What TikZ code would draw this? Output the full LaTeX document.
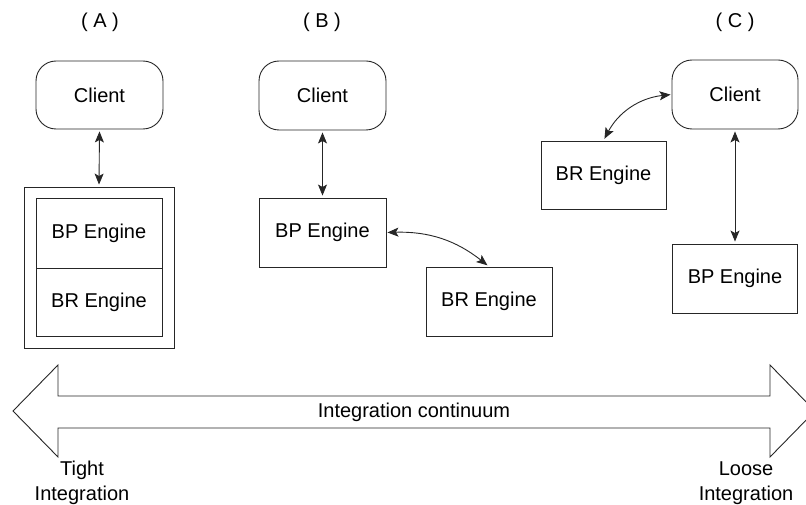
\documentclass[tikz,border=0pt]{standalone}
\usepackage{fontspec}
\setmainfont{Liberation Sans}
\usetikzlibrary{arrows.meta}
\begin{document}
\begin{tikzpicture}[x=1pt,y=-1pt,
  every node/.style={font=\fontsize{20}{25}\selectfont},
  line/.style={line width=0.9pt, draw=black!85},
  box/.style={line, draw, rectangle, inner sep=0pt},
  clientbox/.style={box, rounded corners=20pt},
  tip/.tip={Stealth[length=11pt,width=9pt,inset=2.5pt]},
  link/.style={line, tip-tip, shorten <=2pt, shorten >=2pt},
  caption/.style={align=center, inner sep=0pt}]
\useasboundingbox (0,0) rectangle (806,505);

% column headings
\node (lblA) at (100,22) {( A )};
\node (lblB) at (322,22) {( B )};
\node (lblC) at (735,22) {( C )};

% (A) engines embedded in one component
\node[clientbox, minimum width=127pt, minimum height=68pt] (clientA) at (99.5,95) {Client};
\node[box, minimum width=150pt, minimum height=161pt] (outerA) at (99,267.5) {};
\node[box, minimum width=126pt, minimum height=70pt] (bpA) at (99,233) {BP Engine};
\node[box, minimum width=126pt, minimum height=68pt] (brA) at (99,302) {BR Engine};
\draw[link] (clientA.south) -- (outerA.north);

% (B) rule engine called by the process engine
\node[clientbox, minimum width=127pt, minimum height=69pt] (clientB) at (322.5,95.5) {Client};
\node[box, minimum width=127pt, minimum height=69pt] (bpB) at (322.5,232.5) {BP Engine};
\node[box, minimum width=126pt, minimum height=69pt] (brB) at (489,301.5) {BR Engine};
\draw[link] (clientB.south) -- (bpB.north);
\draw[link, shorten <=1pt] (bpB.east) to[bend left=20] (brB.north);

% (C) both engines used by the client directly
\node[clientbox, minimum width=126pt, minimum height=69pt] (clientC) at (735,94.5) {Client};
\node[box, minimum width=125pt, minimum height=68pt] (brC) at (603.5,175) {BR Engine};
\node[box, minimum width=125pt, minimum height=69pt] (bpC) at (735,278.5) {BP Engine};
\draw[link] (clientC.south) -- (bpC.north);
\draw[link, shorten <=1pt] (clientC.west) to[bend right=28] (brC.north);

% integration continuum double arrow
\draw[line] (13,411) -- (58,365) -- (58,396) -- (770,396) -- (770,365) -- (815,411)
  -- (770,457) -- (770,428) -- (58,428) -- (58,457) -- cycle;
\node (continuum) at (414,412) {Integration continuum};
\node[caption] (tight) at (82,483) {Tight\\Integration};
\node[caption] (loose) at (746,483) {Loose\\Integration};
\end{tikzpicture}
\end{document}
